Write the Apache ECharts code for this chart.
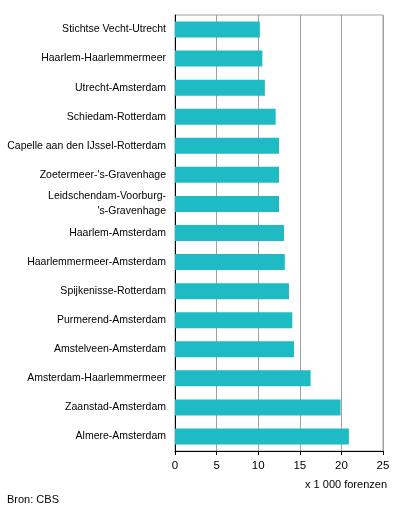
<!DOCTYPE html>
<html>
<head>
<meta charset="utf-8">
<style>
    html, body { margin: 0; padding: 0; background: #fff; }
    #chart { width: 396px; height: 514px; }
</style>
</head>
<body>
<div id="chart"></div>
<script type="text/javascript" src="https://cdn.jsdelivr.net/npm/echarts@6/dist/echarts.min.js"></script>
<script type="text/javascript">
    // categorieen van boven naar beneden
    var routes = [
        'Stichtse Vecht-Utrecht',
        'Haarlem-Haarlemmermeer',
        'Utrecht-Amsterdam',
        'Schiedam-Rotterdam',
        'Capelle aan den IJssel-Rotterdam',
        "Zoetermeer-'s-Gravenhage",
        "Leidschendam-Voorburg-\n's-Gravenhage",
        'Haarlem-Amsterdam',
        'Haarlemmermeer-Amsterdam',
        'Spijkenisse-Rotterdam',
        'Purmerend-Amsterdam',
        'Amstelveen-Amsterdam',
        'Amsterdam-Haarlemmermeer',
        'Zaanstad-Amsterdam',
        'Almere-Amsterdam'
    ];
    // x 1 000 forenzen
    var forenzen = [10.2, 10.5, 10.8, 12.1, 12.5, 12.5, 12.5, 13.1, 13.2, 13.7, 14.1, 14.3, 16.3, 19.9, 20.9];
    var xTicks = [0, 5, 10, 15, 20, 25];

    var font = 'Liberation Sans, Arial, sans-serif';
    var chart = echarts.init(document.getElementById('chart'));

    var option = {
        animation: false,
        backgroundColor: '#fff',
        grid: {
            left: 175,
            right: 13,
            top: 15,
            bottom: 63,
            containLabel: false,
            outerBoundsMode: 'none',
            show: true,
            borderColor: '#a0a0a0',
            borderWidth: 1
        },
        xAxis: {
            type: 'value',
            min: xTicks[0],
            max: xTicks[xTicks.length - 1],
            interval: 5,
            axisLine: { show: true, lineStyle: { color: '#000', width: 1 } },
            axisTick: { show: true, length: 4, lineStyle: { color: '#000' } },
            axisLabel: { color: '#000', fontFamily: font, fontSize: 11.5, margin: 9 },
            splitLine: { show: true, lineStyle: { color: '#a0a0a0', width: 1 } }
        },
        yAxis: {
            type: 'category',
            inverse: true,
            data: routes,
            axisLine: { show: true, lineStyle: { color: '#000', width: 1 } },
            axisTick: { show: false },
            axisLabel: { color: '#000', fontFamily: font, fontSize: 10.5, margin: 9, lineHeight: 15 },
            splitLine: { show: false }
        },
        series: [{
            type: 'bar',
            data: forenzen,
            barCategoryGap: '45%',
            itemStyle: { color: '#1fbbc4' }
        }],
        graphic: [
            {
                type: 'text',
                right: 9,
                top: 479,
                style: { text: 'x 1 000 forenzen', fill: '#000', font: '11px ' + font }
            },
            {
                type: 'text',
                left: 7,
                top: 494,
                style: { text: 'Bron: CBS', fill: '#000', font: '11px ' + font }
            }
        ]
    };

    chart.setOption(option);
</script>
</body>
</html>
